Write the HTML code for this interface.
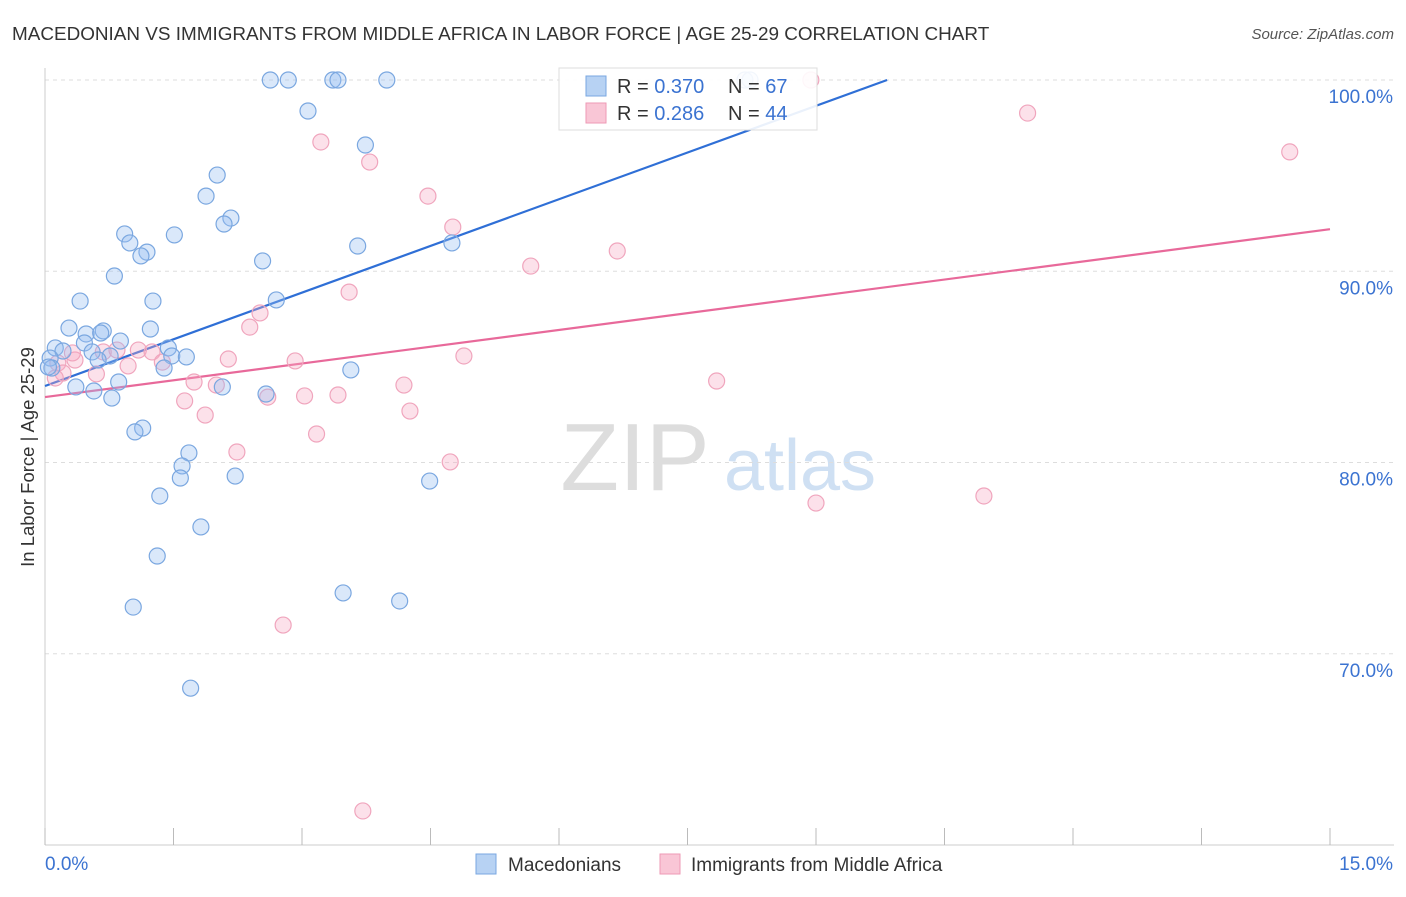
<!DOCTYPE html>
<html><head><meta charset="utf-8"><style>
body{margin:0;background:#fff;font-family:"Liberation Sans",sans-serif;}
svg text{font-family:"Liberation Sans",sans-serif;}
</style></head><body>
<svg id="chart" width="1406" height="892" xmlns="http://www.w3.org/2000/svg">
<text x="12" y="40" font-size="18.9" fill="#333">MACEDONIAN VS IMMIGRANTS FROM MIDDLE AFRICA IN LABOR FORCE | AGE 25-29 CORRELATION CHART</text>
<text x="1394" y="39" font-size="15" fill="#555" font-style="italic" text-anchor="end">Source: ZipAtlas.com</text>
<text x="34" y="457" font-size="18.5" fill="#333" text-anchor="middle" transform="rotate(-90 34 457)">In Labor Force | Age 25-29</text>
<g><text x="635" y="490" font-size="96" fill="#ddd" font-family="Liberation Serif,serif" text-anchor="middle">ZIP</text><text x="800" y="490" font-size="72" fill="#cfe0f3" text-anchor="middle">atlas</text></g>
<g id="grid"></g><g id="axes"></g><g id="lines"></g><g id="pts"></g>
<g>
<rect x="559" y="68" width="258" height="62" fill="#fff" fill-opacity="0.9" stroke="#ddd"/>
<rect x="586" y="76" width="20" height="20" fill="#b7d2f3" stroke="#7aa7e0"/>
<rect x="586" y="103" width="20" height="20" fill="#f9c6d6" stroke="#ee9ab5"/>
<text x="617" y="93" font-size="20" fill="#333">R = <tspan fill="#3b73d1">0.370</tspan></text>
<text x="728" y="93" font-size="20" fill="#333">N = <tspan fill="#3b73d1">67</tspan></text>
<text x="617" y="120" font-size="20" fill="#333">R = <tspan fill="#3b73d1">0.286</tspan></text>
<text x="728" y="120" font-size="20" fill="#333">N = <tspan fill="#3b73d1">44</tspan></text>
</g>
<g>
<rect x="476" y="854" width="20" height="20" fill="#b7d2f3" stroke="#7aa7e0"/>
<text x="508" y="871" font-size="19" fill="#333">Macedonians</text>
<rect x="660" y="854" width="20" height="20" fill="#f9c6d6" stroke="#ee9ab5"/>
<text x="691" y="871" font-size="19" fill="#333">Immigrants from Middle Africa</text>
</g>
</svg>
<script>
const blueX=[2.63,2.84,3.36,3.42,3.99,3.07,3.74,2.01,1.88,2.17,2.09,0.93,1.51,0.99,1.19,1.12,2.54,3.65,4.75,0.81,0.41,1.26,2.70,0.28,1.23,0.68,0.48,0.65,0.88,0.46,0.12,0.21,0.55,1.44,0.06,0.76,0.62,1.48,1.65,1.39,0.08,3.57,0.04,0.36,0.57,0.86,2.07,0.78,2.58,1.14,1.05,1.68,1.60,1.58,2.22,4.49,1.34,1.82,1.31,3.48,4.14,1.03,1.70,8.17,8.23];
const blueY=[100,100,100,100,100,98.38,96.6,95.03,93.93,92.78,92.47,91.95,91.9,91.48,91.0,90.8,90.54,91.32,91.48,89.75,88.44,88.44,88.5,87.03,86.98,86.88,86.72,86.77,86.35,86.25,85.99,85.83,85.78,85.99,85.46,85.57,85.36,85.57,85.52,84.94,84.94,84.84,84.99,83.95,83.74,84.21,83.95,83.37,83.58,81.8,81.6,80.5,79.82,79.19,79.29,79.03,78.25,76.63,75.11,73.18,72.76,72.44,68.2,100,100];
const pinkX=[8.94,11.47,14.53,3.22,3.79,4.47,4.76,6.68,5.67,3.55,2.51,2.39,4.89,2.14,2.92,1.09,1.25,0.68,0.84,0.35,0.15,1.37,0.97,0.21,0.12,0.60,1.74,2.0,4.19,7.84,1.63,2.60,3.03,3.42,4.26,1.87,3.17,2.24,4.73,9.0,10.96,2.78,3.71,0.32];
const pinkY=[100,98.27,96.24,96.76,95.71,93.93,92.31,91.06,90.27,88.91,87.82,87.08,85.57,85.41,85.31,85.88,85.78,85.78,85.88,85.36,85.2,85.25,85.05,84.68,84.42,84.63,84.21,84.05,84.05,84.26,83.22,83.42,83.48,83.53,82.69,82.48,81.49,80.55,80.03,77.88,78.25,71.5,61.78,85.73];
const blueTrend=[84.0,100];const blueTrendX=[0,9.83];
const pinkTrend=[83.42,92.2];const pinkTrendX=[0,15];
const yTicks=[100,90,80,70];const yTickLabels=["100.0%","90.0%","80.0%","70.0%"];
const xTicks=[0,1.5,3,4.5,6,7.5,9,10.5,12,13.5,15];
const NS="http://www.w3.org/2000/svg";
const X=v=>45+v*(1285/15), Y=v=>80+(100-v)*19.125;
function mk(t,a,p){const e=document.createElementNS(NS,t);for(const k in a)e.setAttribute(k,a[k]);document.getElementById(p).appendChild(e);return e;}
yTicks.forEach((t,i)=>{
 const l=mk('line',{x1:45,x2:1394,y1:Y(t),y2:Y(t),stroke:'#ddd','stroke-dasharray':'4 4'},'grid');
 
 
 const tx=mk('text',{x:1393,y:Y(t)+23,'font-size':19,fill:'#3b73d1','text-anchor':'end'},'axes');tx.textContent=yTickLabels[i];
 
 
});
const ax=mk('line',{x1:45,x2:1394,y1:845,y2:845,stroke:'#ccc'},'axes');


const ay=mk('line',{x1:45,x2:45,y1:68,y2:845,stroke:'#ccc'},'axes');


xTicks.forEach(t=>{const l=mk('line',{x1:X(t),x2:X(t),y1:828,y2:845,stroke:'#bbb'},'axes');
 
 });
const xl0=mk('text',{x:45,y:870,'font-size':19,fill:'#3b73d1'},'axes');xl0.textContent='0.0%';


const xl1=mk('text',{x:1393,y:870,'font-size':19,fill:'#3b73d1','text-anchor':'end'},'axes');xl1.textContent='15.0%';


pinkX.forEach((v,i)=>{const c=mk('circle',{cx:X(v),cy:Y(pinkY[i]),r:8,fill:'rgba(246,170,195,0.35)',stroke:'#f0a5bd','stroke-width':1.2},'pts');
 
 });
blueX.forEach((v,i)=>{const c=mk('circle',{cx:X(v),cy:Y(blueY[i]),r:8,fill:'rgba(150,190,240,0.35)',stroke:'#7aa7e0','stroke-width':1.2},'pts');
 
 });
const bl=mk('line',{x1:X(blueTrendX[0]),y1:Y(blueTrend[0]),x2:X(blueTrendX[1]),y2:Y(blueTrend[1]),stroke:'#2f6fd6','stroke-width':2.2},'lines');


const pl=mk('line',{x1:X(pinkTrendX[0]),y1:Y(pinkTrend[0]),x2:X(pinkTrendX[1]),y2:Y(pinkTrend[1]),stroke:'#e8699a','stroke-width':2.2},'lines');


</script>
</body></html>
